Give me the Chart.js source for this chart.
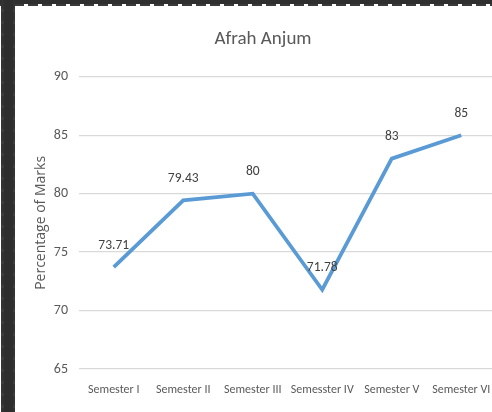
<!DOCTYPE html>
<html>
<head>
<meta charset="utf-8">
<script src="https://cdn.jsdelivr.net/npm/chart.js@4/dist/chart.umd.min.js"></script>
<style>
    html, body { margin: 0; padding: 0; background: #ffffff; overflow: hidden; width: 492px; height: 412px; }
    #wrap { position: relative; width: 492px; height: 412px; overflow: hidden; }
    #chart { position: absolute; left: 0; top: 0; }
    .frame-left { position: absolute; left: 1px; top: 0; width: 14px; height: 412px;
        background: repeating-linear-gradient(to bottom, #333 0 9px, #3c3c3c 9px 12px); }
    .frame-left::before { content: ''; position: absolute; left: 3px; top: 0; width: 9px; height: 412px; background: #2e2e2e; }
    .frame-top { position: absolute; left: 0; top: 0; width: 492px; height: 4px; background: #2f2f2f; }
    .frame-top::after { content: ''; position: absolute; left: 0; top: 4px; width: 492px; height: 2px;
        background: repeating-linear-gradient(to right, #3a3a3a 0 10px, transparent 10px 14px); }
</style>
</head>
<body>
<div id="wrap">
    <canvas id="chart" width="500" height="412"></canvas>
    <div class="frame-top"></div>
    <div class="frame-left"></div>
</div>
<script>
const semesters = ['Semester I', 'Semester II', 'Semester III', 'Semesster IV', 'Semester V', 'Semester VI'];
const marks = [73.71, 79.43, 80, 71.78, 83, 85];
const yTicks = [65, 70, 75, 80, 85, 90];

const textFont = "Carlito, 'DejaVu Sans Condensed', 'Liberation Sans Narrow', Lato, sans-serif";

// writes each value a little above its point
const valueLabels = {
    id: 'valueLabels',
    afterDatasetsDraw(chart) {
        const ctx = chart.ctx;
        const meta = chart.getDatasetMeta(0);
        ctx.save();
        ctx.font = '13.5px ' + textFont;
        ctx.fillStyle = '#404040';
        ctx.textAlign = 'center';
        ctx.textBaseline = 'middle';
        meta.data.forEach((pt, i) => {
            ctx.fillText(String(marks[i]), pt.x, pt.y - 22);
        });
        ctx.restore();
    }
};

new Chart(document.getElementById('chart').getContext('2d'), {
    type: 'line',
    data: {
        labels: semesters,
        datasets: [{
            data: marks,
            borderColor: '#5B9BD5',
            borderWidth: 3.8,
            pointRadius: 0,
            tension: 0,
            fill: false
        }]
    },
    options: {
        responsive: false,
        animation: false,
        layout: { padding: { top: 0, left: 30, right: 4, bottom: 0 } },
        scales: {
            x: {
                offset: true,
                grid: { display: false, drawTicks: false },
                border: { display: false },
                ticks: {
                    color: '#595959',
                    font: { family: textFont, size: 12 },
                    padding: 14,
                    autoSkip: false,
                    maxRotation: 0
                },
                afterFit: s => { s.height = 43; s.paddingRight = 0; s.paddingLeft = 0; }
            },
            y: {
                min: yTicks[0],
                max: yTicks[yTicks.length - 1],
                afterBuildTicks: s => { s.ticks = yTicks.map(v => ({ value: v })); },
                grid: { color: '#d9d9d9', lineWidth: 1.3, drawTicks: false },
                border: { display: false },
                ticks: {
                    color: '#595959',
                    font: { family: textFont, size: 14 },
                    padding: 11
                },
                title: {
                    display: true,
                    text: 'Percentage of Marks',
                    color: '#595959',
                    font: { family: "'Open Sans', sans-serif", size: 14 },
                    padding: { top: 3, bottom: 0 }
                },
                afterFit: s => { s.width = 49; }
            }
        },
        plugins: {
            legend: { display: false },
            tooltip: { enabled: false },
            title: {
                display: true,
                text: 'Afrah Anjum',
                color: '#595959',
                font: { family: textFont, size: 19, weight: 'normal' },
                padding: { top: 28, bottom: 26 }
            }
        }
    },
    plugins: [valueLabels]
});
</script>
</body>
</html>
